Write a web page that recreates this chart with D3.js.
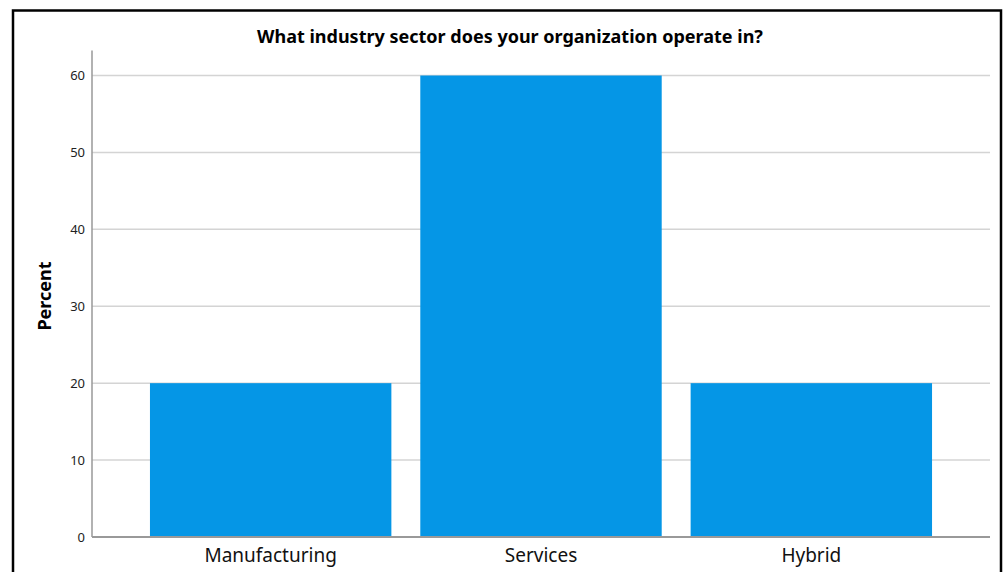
<!DOCTYPE html>
<html><head><meta charset="utf-8">
<script src="https://cdn.jsdelivr.net/npm/d3@7"></script>
<style>body{margin:0;background:#fff}svg{display:block}</style>
</head><body>
<svg id="c" width="1004" height="572"></svg>
<script>
const categories = ["Manufacturing", "Services", "Hybrid"];
const percents = [20, 60, 20];
const yTicks = [0, 10, 20, 30, 40, 50, 60];
const title = "What industry sector does your organization operate in?";
const yLabel = "Percent";

const svg = d3.select("#c");
const font = "'Noto Sans', 'Open Sans', sans-serif";

// outer frame
svg.append("rect").attr("x", 13).attr("y", 10.5).attr("width", 988).attr("height", 600)
  .attr("fill", "#fff").attr("stroke", "#000").attr("stroke-width", 2.5);

const y = d3.scaleLinear().domain([0, 60]).range([537, 75.5]);
const x = d3.scaleBand().domain(categories).range([135.5, 946.5])
  .paddingInner(0.107).paddingOuter(0.0535);

const plotL = 92, plotR = 990;

// gridlines
svg.append("g").selectAll("line").data(yTicks.filter(t => t > 0)).join("line")
  .attr("x1", plotL).attr("x2", plotR)
  .attr("y1", d => y(d)).attr("y2", d => y(d))
  .attr("stroke", "#d4d4d4").attr("stroke-width", 1.5);

// bars
svg.append("g").selectAll("rect").data(categories).join("rect")
  .attr("x", d => x(d)).attr("width", x.bandwidth())
  .attr("y", (d, i) => y(percents[i])).attr("height", (d, i) => y(0) - y(percents[i]))
  .attr("fill", "#0596e6");

// y axis
const yAxis = d3.axisLeft(y).tickValues(yTicks).tickSize(0).tickPadding(7);
const gy = svg.append("g").attr("transform", `translate(${plotL},0)`).call(yAxis);
gy.select(".domain").remove();
gy.selectAll("text").attr("font-family", font).attr("font-size", 13).attr("fill", "#222");
svg.append("line").attr("x1", plotL).attr("x2", plotL).attr("y1", 50.5).attr("y2", 537)
  .attr("stroke", "#999").attr("stroke-width", 1.5);

// baseline
svg.append("line").attr("x1", plotL).attr("x2", plotR).attr("y1", 537).attr("y2", 537)
  .attr("stroke", "#999").attr("stroke-width", 2);

// x axis labels
const xAxis = d3.axisBottom(x).tickSize(0).tickPadding(0);
const gx = svg.append("g").attr("transform", "translate(0,537)").call(xAxis);
gx.select(".domain").remove();
gx.selectAll("text").attr("font-family", font).attr("font-size", 19).attr("fill", "#111")
  .attr("dy", null).attr("y", 25);

// title
svg.append("text").attr("x", 510).attr("y", 43).attr("text-anchor", "middle")
  .attr("font-family", font).attr("font-weight", "bold").attr("font-size", 18)
  .attr("fill", "#000").text(title);

// y label
svg.append("text").attr("transform", "translate(51,296) rotate(-90)").attr("text-anchor", "middle")
  .attr("font-family", font).attr("font-weight", "bold").attr("font-size", 18)
  .attr("fill", "#000").text(yLabel);
</script>
</body></html>
